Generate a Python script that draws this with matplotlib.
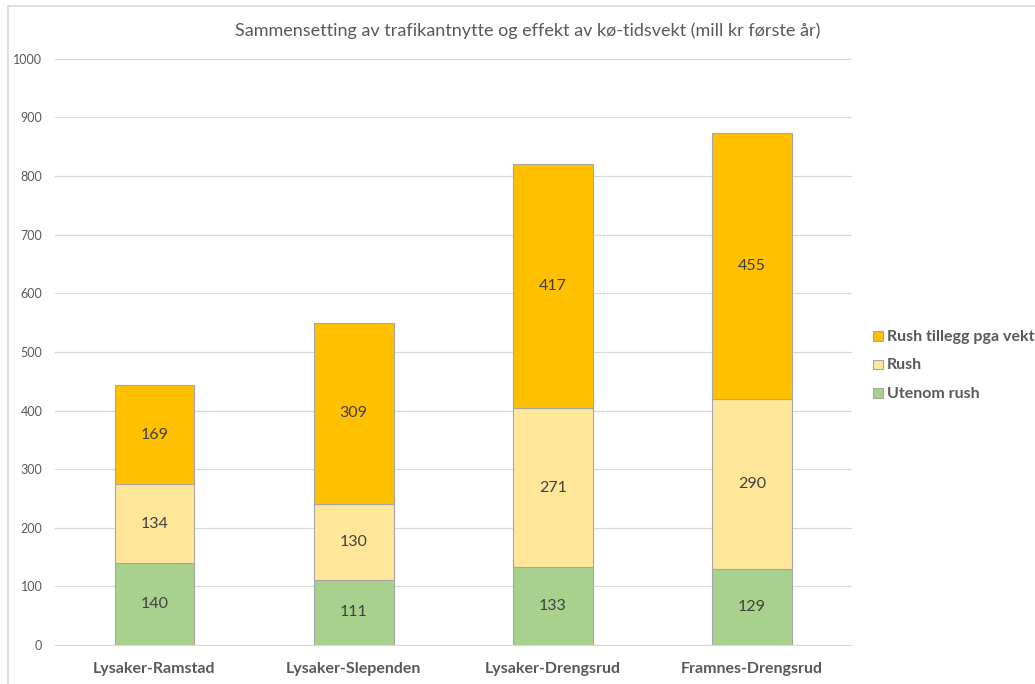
import matplotlib.pyplot as plt
from matplotlib.patches import Rectangle
import numpy as np

plt.rcParams['font.family'] = ['Lato', 'DejaVu Sans']

# -----------------------------
# Data
# -----------------------------
routes = ["Lysaker-Ramstad", "Lysaker-Slependen", "Lysaker-Drengsrud", "Framnes-Drengsrud"]
utenom_rush = [140, 111, 133, 129]
rush = [134, 130, 271, 290]
rush_vekt = [169, 309, 417, 455]

series = [
    ("Utenom rush", utenom_rush, "#A9D18E"),
    ("Rush", rush, "#FFE699"),
    ("Rush tillegg pga vekt", rush_vekt, "#FFC000"),
]

# -----------------------------
# Plot
# -----------------------------
fig = plt.figure(figsize=(10.35, 6.84), dpi=100)
ax = fig.add_axes([0.053, 0.057, 0.770, 0.857])

x = np.arange(len(routes))
bottom = np.zeros(len(routes))
handles = []
for name, vals, color in series:
    bars = ax.bar(x, vals, width=0.4, bottom=bottom, color=color,
                  edgecolor="#A6A6A6", linewidth=0.8, label=name, zorder=3)
    for xi, b, v in zip(x, bottom, vals):
        ax.text(xi, b + v / 2, str(v), ha="center", va="center",
                fontsize=11.5, color="#404040", zorder=4)
    bottom += np.array(vals)
    handles.append(bars)

ax.set_xlim(-0.5, 3.5)
ax.set_ylim(0, 1000)
ax.set_yticks(range(0, 1001, 100))
ax.set_xticks(x)
ax.set_xticklabels(routes, fontsize=11.5, fontweight="bold", color="#595959")
ax.tick_params(axis="y", labelsize=9, colors="#595959", length=0, pad=9)
ax.tick_params(axis="x", length=0, pad=12)
ax.grid(axis="y", color="#D9D9D9", linewidth=0.9, zorder=0)
for s in ["top", "right", "left"]:
    ax.spines[s].set_visible(False)
ax.spines["bottom"].set_color("#D9D9D9")

fig.text(0.51, 0.955, "Sammensetting av trafikantnytte og effekt av kø-tidsvekt (mill kr første år)",
         ha="center", va="center", fontsize=13, color="#595959")

leg = fig.legend(handles[::-1], [s[0] for s in series][::-1],
                 loc="center left", bbox_to_anchor=(0.838, 0.466),
                 frameon=False, handlelength=0.7, handleheight=0.7,
                 handletextpad=0.3, labelspacing=1.05, borderaxespad=0)
for t in leg.get_texts():
    t.set_fontsize(11.5)
    t.set_fontweight("bold")
    t.set_color("#595959")

# chart border (cut at right and bottom like the screenshot)
fig.patches.append(Rectangle((8 / 1035, -0.05), 1.1, (684 - 6) / 684 + 0.05,
                             transform=fig.transFigure, fill=False,
                             edgecolor="#D9D9D9", linewidth=1.2))

fig.savefig("out.png", dpi=100)
